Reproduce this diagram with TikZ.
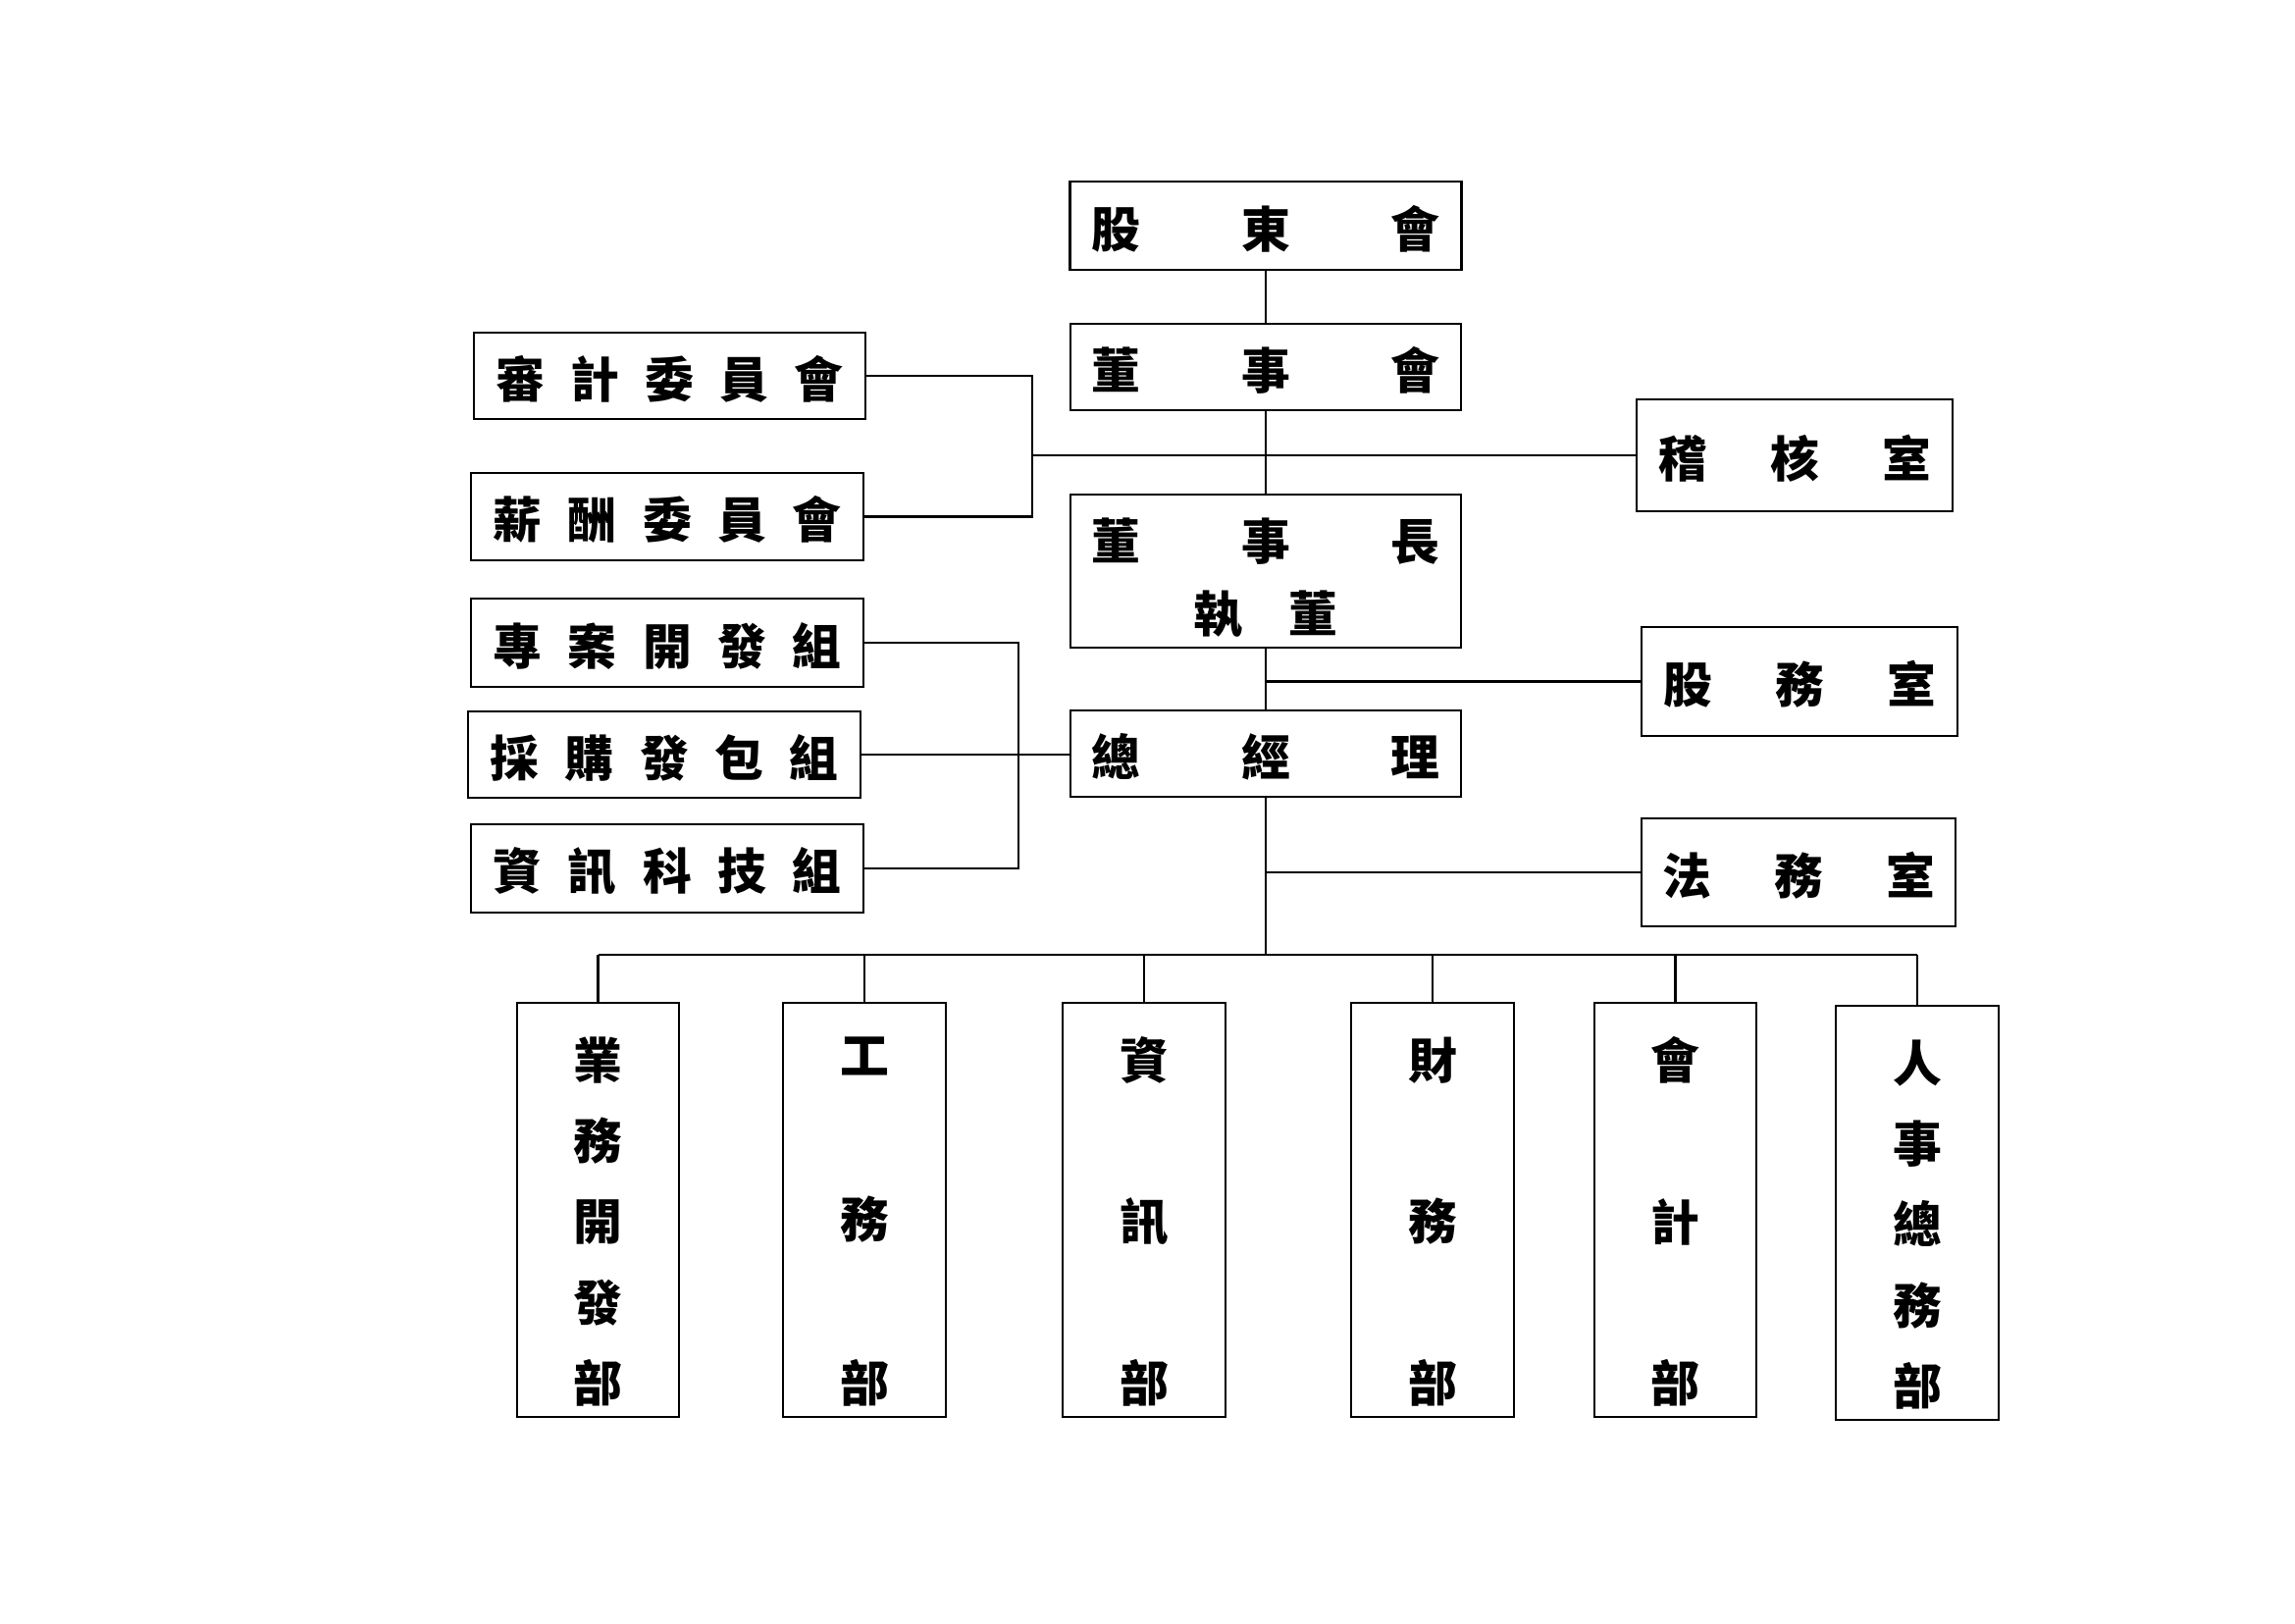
\documentclass[tikz,border=0pt]{standalone}
\usepackage{fontspec}
\newfontfamily\cjk{Noto Sans CJK TC}
\begin{document}
\begin{tikzpicture}[x=0.127mm,y=-0.127mm,
  box/.style={draw, line width=1pt, inner sep=0pt, align=center,
    font=\cjk\bfseries\fontsize{18}{27}\selectfont},
  sz/.style 2 args={minimum width=#1*0.127mm, minimum height=#2*0.127mm},
  conn/.style={line width=0.9pt}]
\useasboundingbox (0,0) rectangle (2339,1654);
\newcommand\shiftdn[2]{\raisebox{-#1}[\height][\depth]{#2}}
\newcommand\hfive[5]{\shiftdn{0.4mm}{\makebox[45mm]{#1\hfill #2\hfill #3\hfill #4\hfill #5}}}
\newcommand\hthree[3]{\shiftdn{0.4mm}{\makebox[45mm]{#1\hfill #2\hfill #3}}}
\newcommand\hroom[3]{\shiftdn{0.4mm}{\makebox[35.3mm]{#1\hfill #2\hfill #3}}}
\newcommand\vdept[1]{\shiftdn{1.5mm}{\parbox[c][47.2mm][s]{2em}{\centering #1}}}
% top column
\node[box, sz={399}{90}] (sh) at (1290,230) {\hthree{股}{東}{會}};
\node[box, sz={398}{88}] (bd) at (1290,374) {\hthree{董}{事}{會}};
\node[box, sz={398}{156}] (chair) at (1290,582) {\shiftdn{0.9mm}{\parbox{45mm}{\centering\makebox[45mm]{董\hfill 事\hfill 長}\\執\hspace{0.95em}董}}};
\node[box, sz={398}{88}] (gm) at (1290,768) {\hthree{總}{經}{理}};
% left committees and groups
\node[box, sz={399}{88}] (audit) at (682.5,383) {\hfive{審}{計}{委}{員}{會}};
\node[box, sz={400}{89}] (pay) at (680,526.5) {\hfive{薪}{酬}{委}{員}{會}};
\node[box, sz={400}{90}] (proj) at (680,655) {\hfive{專}{案}{開}{發}{組}};
\node[box, sz={400}{88}] (purch) at (677,769) {\hfive{採}{購}{發}{包}{組}};
\node[box, sz={400}{90}] (itg) at (680,885) {\hfive{資}{訊}{科}{技}{組}};
% right offices
\node[box, sz={322}{114}] (audroom) at (1829,464) {\hroom{稽}{核}{室}};
\node[box, sz={322}{111}] (share) at (1834,694.5) {\hroom{股}{務}{室}};
\node[box, sz={320}{110}] (legal) at (1833,889) {\hroom{法}{務}{室}};
% departments
\node[box, sz={165}{422}] (d1) at (609.5,1233) {\vdept{業\par\vfill 務\par\vfill 開\par\vfill 發\par\vfill 部}};
\node[box, sz={166}{422}] (d2) at (881,1233) {\vdept{工\par\vfill 務\par\vfill 部}};
\node[box, sz={166}{422}] (d3) at (1166,1233) {\vdept{資\par\vfill 訊\par\vfill 部}};
\node[box, sz={166}{422}] (d4) at (1460,1233) {\vdept{財\par\vfill 務\par\vfill 部}};
\node[box, sz={165}{422}] (d5) at (1707.5,1233) {\vdept{會\par\vfill 計\par\vfill 部}};
\node[box, sz={166}{422}] (d6) at (1954,1236) {\vdept{人\par\vfill 事\par\vfill 總\par\vfill 務\par\vfill 部}};
% helper coordinates
\coordinate (cj) at (1052,0);
\coordinate (gj) at (1038,0);
\coordinate (bus) at (0,973);
% connectors
\draw[conn] (sh.south) -- (bd.north);
\draw[conn] (bd.south) -- (chair.north);
\draw[conn] (chair.south) -- (gm.north);
\draw[conn] (audit.east) -| (cj |- pay.east) -- (pay.east);
\draw[conn] (cj |- audroom.west) -- (audroom.west);
\draw[conn] (share.west) -- (share.west -| chair.south);
\draw[conn] (proj.east) -| (gj |- itg.east) -- (itg.east);
\draw[conn] (purch.east) -- (purch.east -| gm.west);
\draw[conn] (gm.south) -- (gm.south |- bus);
\draw[conn] (legal.west) -- (legal.west -| gm.south);
\draw[conn] (d1.north |- bus) -- (d6.north |- bus);
\foreach \d in {d1,d2,d3,d4,d5,d6} \draw[conn] (\d.north) -- (\d.north |- bus);
\end{tikzpicture}
\end{document}
